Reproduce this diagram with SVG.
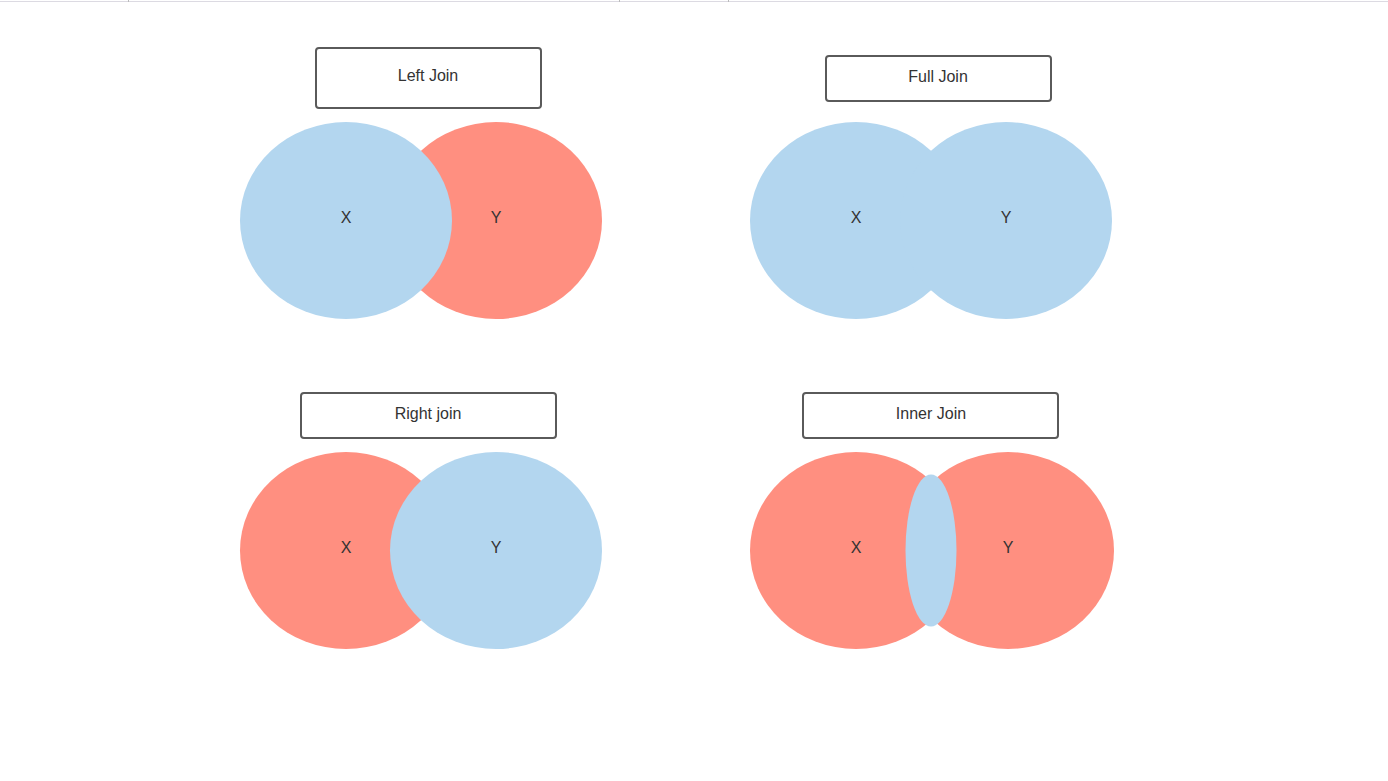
<svg xmlns="http://www.w3.org/2000/svg" width="1388" height="781" viewBox="0 0 1388 781">
<style>
.box{fill:#fff;stroke:#5a5a5a;stroke-width:2}
.t{font-family:"Liberation Sans",Arial,sans-serif;font-size:16px;fill:#333;text-anchor:middle}
.b{fill:#b3d6ef}
.r{fill:#ff8f80}
</style>
<rect width="1388" height="781" fill="#fff"/>
<g id="topline">
<line x1="0" y1="1.5" x2="1388" y2="1.5" stroke="#dcdae2" stroke-width="1"/>
<line x1="128.5" y1="0" x2="128.5" y2="2" stroke="#bbb" stroke-width="1"/>
<line x1="619.5" y1="0" x2="619.5" y2="2" stroke="#bbb" stroke-width="1"/>
<line x1="728.5" y1="0" x2="728.5" y2="2" stroke="#bbb" stroke-width="1"/>
</g>
<g id="left-join">
<rect class="box" x="316" y="48" width="225" height="60" rx="3"/>
<text class="t" x="428" y="81">Left Join</text>
<ellipse class="r" cx="496" cy="220.5" rx="106" ry="98.5"/>
<ellipse class="b" cx="346" cy="220.5" rx="106" ry="98.5"/>
<text class="t" x="346" y="223">X</text>
<text class="t" x="496" y="223">Y</text>
</g>
<g id="full-join">
<rect class="box" x="826" y="56" width="225" height="45" rx="3"/>
<text class="t" x="938" y="82">Full Join</text>
<ellipse class="b" cx="856" cy="220.5" rx="106" ry="98.5"/>
<ellipse class="b" cx="1006" cy="220.5" rx="106" ry="98.5"/>
<text class="t" x="856" y="223">X</text>
<text class="t" x="1006" y="223">Y</text>
</g>
<g id="right-join">
<rect class="box" x="301" y="393" width="255" height="45" rx="3"/>
<text class="t" x="428" y="419">Right join</text>
<ellipse class="r" cx="346" cy="550.5" rx="106" ry="98.5"/>
<ellipse class="b" cx="496" cy="550.5" rx="106" ry="98.5"/>
<text class="t" x="346" y="553">X</text>
<text class="t" x="496" y="553">Y</text>
</g>
<g id="inner-join">
<rect class="box" x="803" y="393" width="255" height="45" rx="3"/>
<text class="t" x="931" y="419">Inner Join</text>
<ellipse class="r" cx="856" cy="550.5" rx="106" ry="98.5"/>
<ellipse class="r" cx="1008" cy="550.5" rx="106" ry="98.5"/>
<ellipse class="b" cx="931" cy="550.5" rx="25.5" ry="76"/>
<text class="t" x="856" y="553">X</text>
<text class="t" x="1008" y="553">Y</text>
</g>
</svg>
